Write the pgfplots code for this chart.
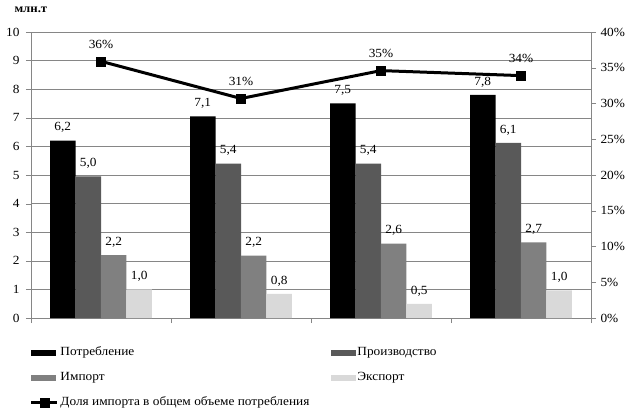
\documentclass[border=0pt]{standalone}
\usepackage{pgfplots}
\pgfplotsset{compat=1.18}
\usepackage{pgfplotstable}
\usepackage{fontspec}
\setmainfont{Liberation Serif}[FakeStretch=1.07]
\definecolor{cprod}{HTML}{595959}
\definecolor{cimp}{HTML}{808080}
\definecolor{cexp}{HTML}{D9D9D9}
\definecolor{axgray}{HTML}{868686}
\newcommand\chartfont{\fontsize{12.5}{15}\selectfont}
\pgfplotstableread{
x y l
0 6.2 6,2
1 7.05 7,1
2 7.5 7,5
3 7.8 7,8
}\tabcons
\pgfplotstableread{
x y l
0 4.95 5,0
1 5.4 5,4
2 5.4 5,4
3 6.12 6,1
}\tabprod
\pgfplotstableread{
x y l
0 2.2 2,2
1 2.18 2,2
2 2.6 2,6
3 2.64 2,7
}\tabimp
\pgfplotstableread{
x y l
0 1.0 1,0
1 0.84 0,8
2 0.49 0,5
3 0.97 1,0
}\tabexp
\pgfplotstableread{
x y l
0 35.9 36
1 30.7 31
2 34.6 35
3 33.9 34
}\tabshare
\pgfplotsset{
  sharelegend/.style={legend image code/.code={\draw[##1, sharp plot, mark repeat=2, mark phase=2] plot coordinates {(0bp,0bp) (13bp,0bp) (26bp,0bp)};}}
}
\begin{document}
\begin{tikzpicture}[font=\chartfont]
\useasboundingbox (-31bp,-93bp) rectangle (597bp,318bp);
\begin{axis}[
  at={(0,0)}, anchor=south west,
  scale only axis, width=560bp, height=286bp,
  xmin=-0.5, xmax=3.5, ymin=0, ymax=10,
  axis x line*=bottom, axis y line*=left,
  axis line style={axgray},
  xtick={0,1,2,3}, xticklabels={2010,2011,2012,2013},
  xmajorticks=false,
  minor xtick={-0.5,0.5,1.5,2.5,3.5},
  minor tick length=5bp,
  ytick={0,1,...,10},
  major tick length=5bp,
  tick align=outside,
  tick style={axgray},
  ymajorgrids, grid style={axgray},
  /pgf/number format/assume math mode=true,
  ticklabel style={font=\chartfont},
  yticklabel style={xshift=-3bp},
  legend columns=2,
  legend cell align=left,
  legend image code/.code={\draw[#1, draw=none] (0bp,-3bp) rectangle (25bp,3bp);},
  legend style={at={(0,0)}, anchor=north west, xshift=-1bp, yshift=-27bp,
    draw=none, fill=none, inner sep=0pt, outer sep=0pt,
    /tikz/every even column/.append style={column sep=20bp},
    row sep=10bp,
    nodes={inner sep=1.5bp, text height=9bp, text depth=3bp}},
  point meta=explicit symbolic,
  nodes near coords={\pgfplotspointmeta},
  every node near coord/.append style={yshift=4.3bp, text=black, font=\chartfont},
]
\addplot[ybar, bar width=25.5bp, bar shift=0pt, fill=black, draw=none] table[x expr=\thisrow{x}-0.273, y=y, meta=l] {\tabcons};
\addlegendentry{Потребление}
\addplot[ybar, bar width=25.5bp, bar shift=0pt, fill=cprod, draw=none] table[x expr=\thisrow{x}-0.091, y=y, meta=l] {\tabprod};
\addlegendentry{Производство}
\addplot[ybar, bar width=25.5bp, bar shift=0pt, fill=cimp, draw=none] table[x expr=\thisrow{x}+0.091, y=y, meta=l] {\tabimp};
\addlegendentry{Импорт}
\addplot[ybar, bar width=25.5bp, bar shift=0pt, fill=cexp, draw=none] table[x expr=\thisrow{x}+0.273, y=y, meta=l] {\tabexp};
\addlegendentry{Экспорт}
\addlegendimage{black, line width=3bp, mark=square*, mark size=4.5bp, mark options={solid, line width=0.5bp}, sharelegend}
\addlegendentry{Доля импорта в общем объеме потребления}
\end{axis}
\begin{axis}[
  at={(0,0)}, anchor=south west,
  scale only axis, width=560bp, height=286bp,
  xmin=-0.5, xmax=3.5, ymin=0, ymax=40,
  axis y line*=right, axis x line=none,
  axis line style={axgray},
  ytick={0,5,...,40},
  yticklabel={\pgfmathprintnumber{\tick}\%},
  major tick length=5bp,
  tick align=outside,
  tick style={axgray},
  /pgf/number format/assume math mode=true,
  ticklabel style={font=\chartfont},
  yticklabel style={xshift=1bp},
]
\addplot[black, line width=3bp, mark=square*, mark size=4.5bp, mark options={solid, line width=0.5bp},
  point meta=explicit symbolic, nodes near coords={\pgfplotspointmeta\%},
  every node near coord/.append style={yshift=9.3bp, text=black, font=\chartfont}]
  table[x=x, y=y, meta=l] {\tabshare};
\end{axis}
\node[anchor=west, font=\fontsize{12}{14}\selectfont\bfseries] at (-20bp, 308bp) {млн.т};
\end{tikzpicture}
\end{document}
